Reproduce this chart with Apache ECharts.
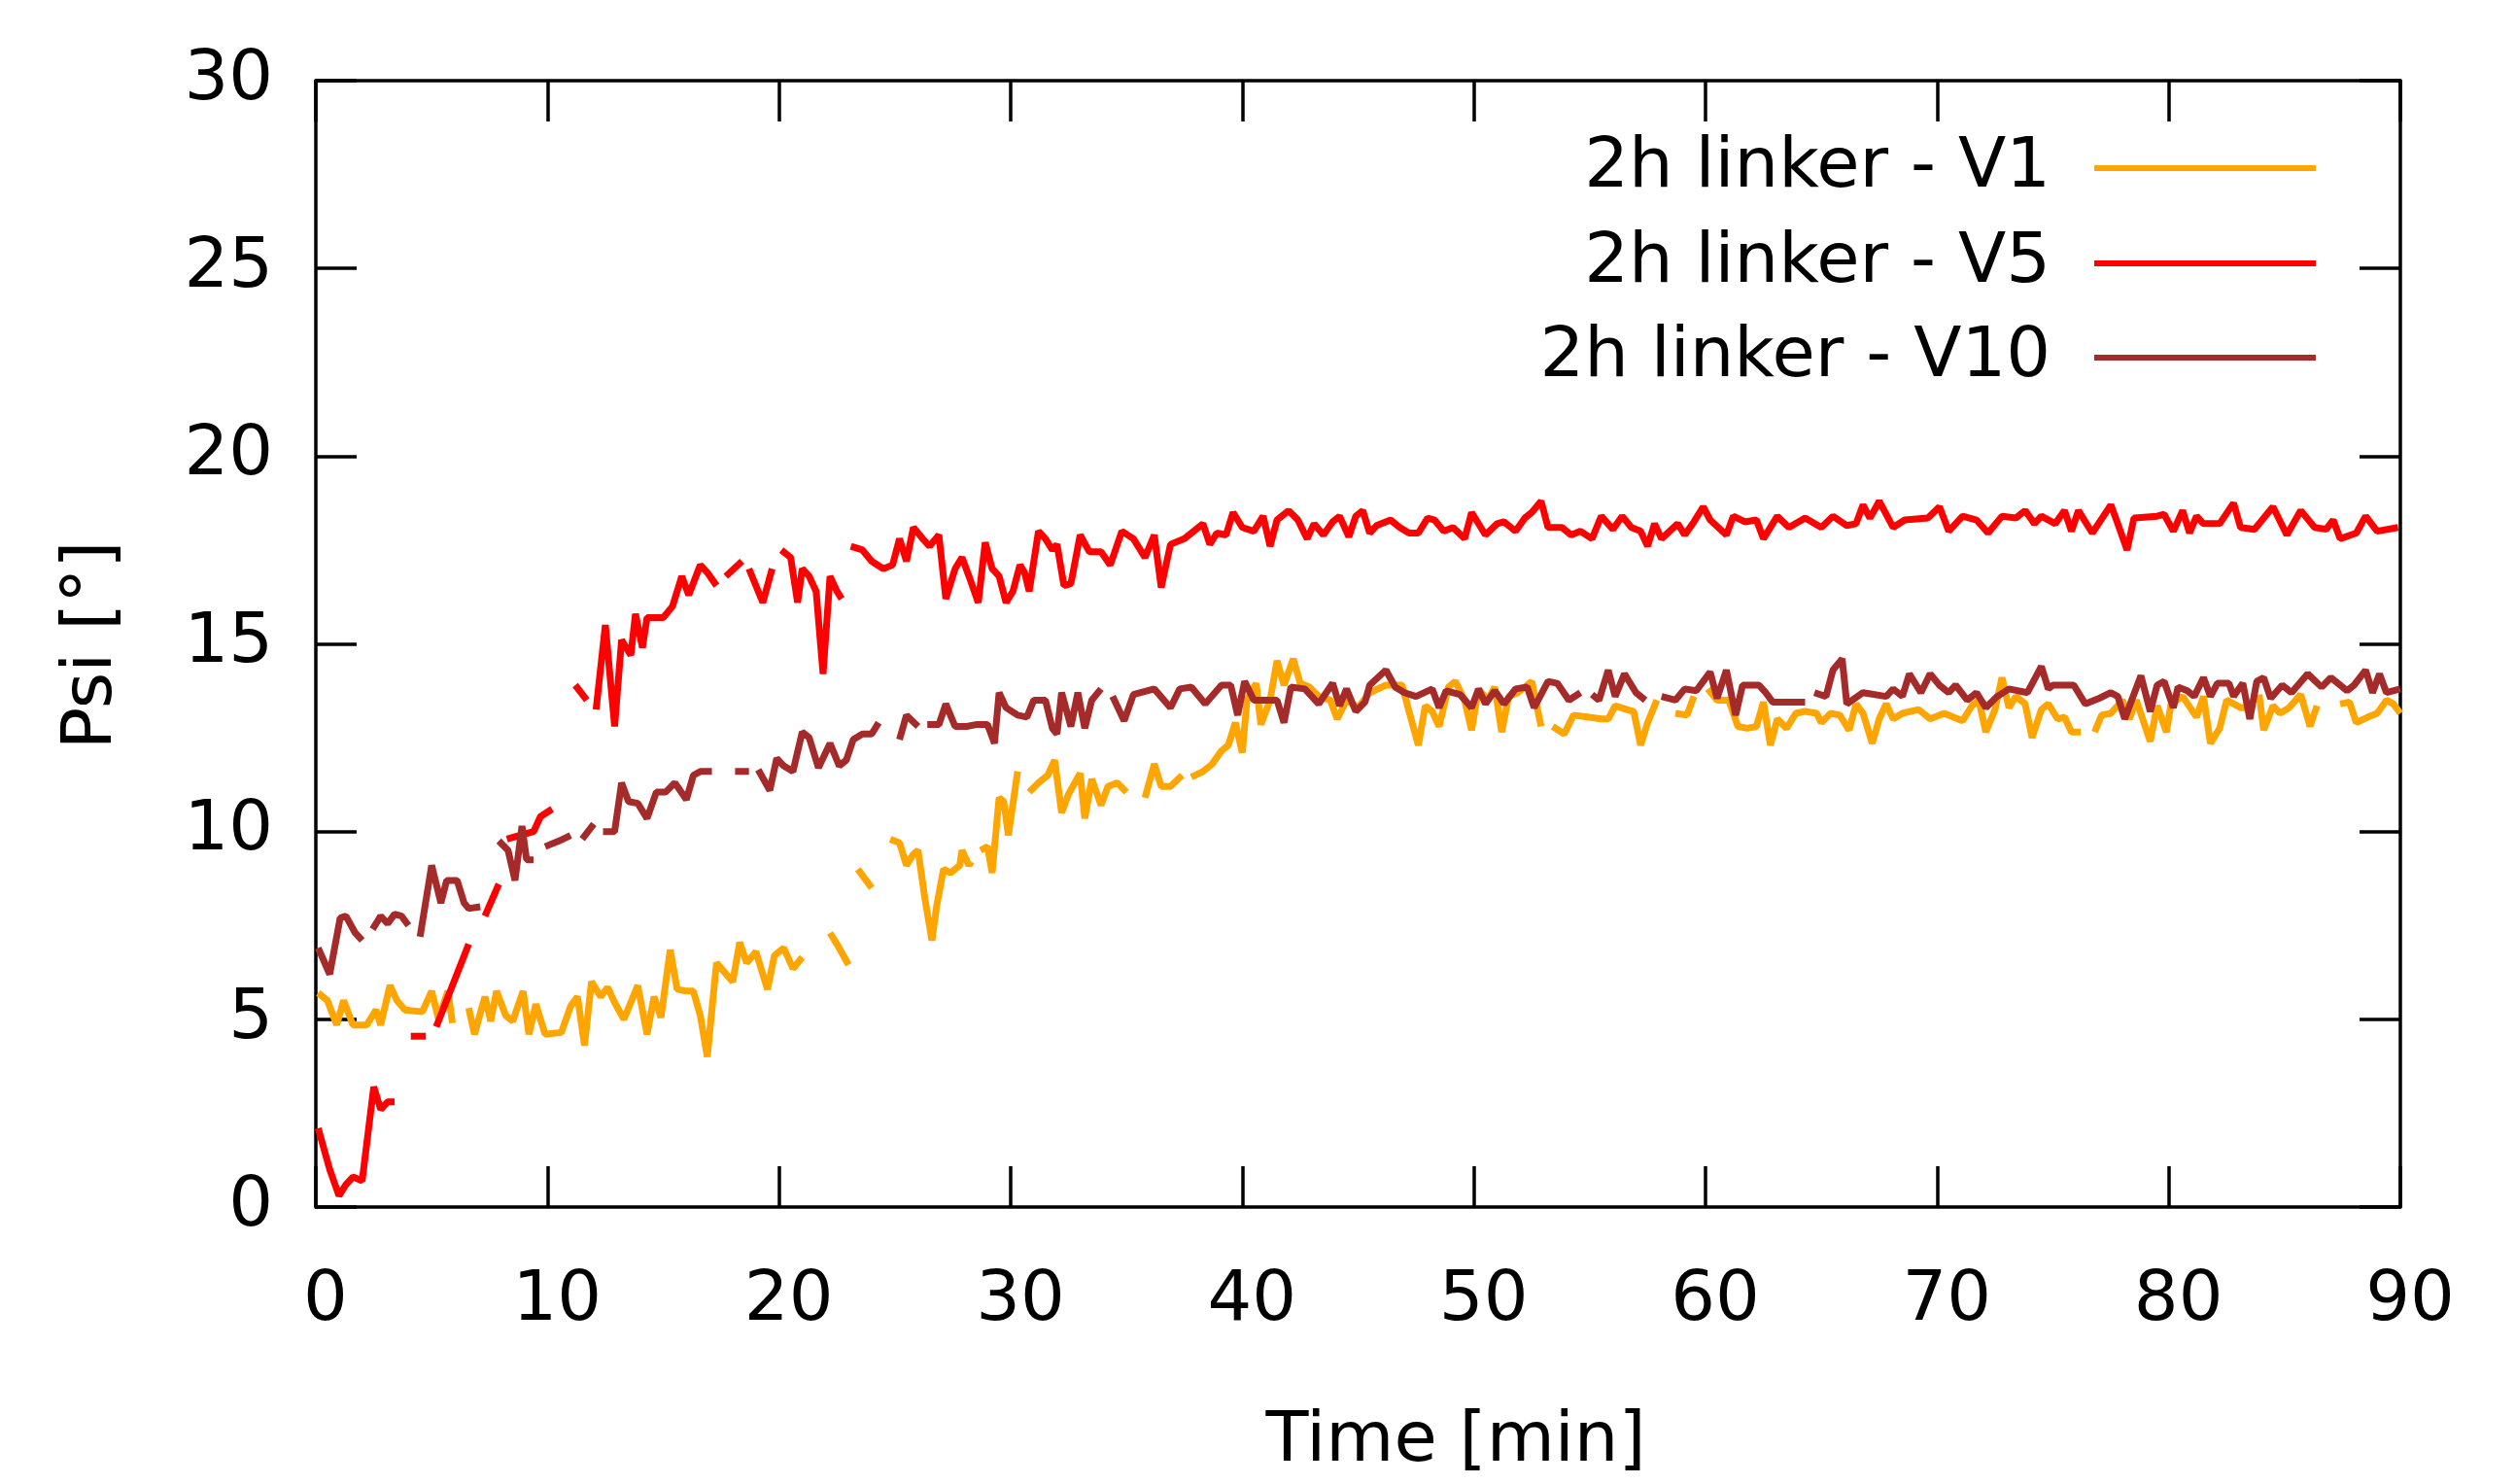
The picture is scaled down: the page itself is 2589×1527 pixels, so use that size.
<!DOCTYPE html>
<html>
<head>
<meta charset="utf-8">
<script src="https://cdn.jsdelivr.net/npm/echarts@6/dist/echarts.min.js"></script>
<style>
html,body{margin:0;padding:0;background:#fff;}
#chart{width:2589px;height:1527px;}
</style>
</head>
<body>
<div id="chart"></div>
<script>
// ---- DATA (time in min, Psi in degrees; null = gap in the curve) ----
const seriesNames = ['2h linker - V1', '2h linker - V5', '2h linker - V10'];
const xTicks = [0, 10, 20, 30, 40, 50, 60, 70, 80, 90];
const yTicks = [0, 5, 10, 15, 20, 25, 30];

const v1Time = [
  0.1, 0.5, 0.9, 1.2, 1.6, 2.2, 2.6, 2.8, 3.2, 3.5, 3.85, 4.6, 5.0, 5.3, 5.7, 5.9, 6.2,
  6.6, 6.85, 7.3, 7.55, 7.8, 8.2, 8.5, 8.95, 9.2, 9.5, 9.9, 10.6, 11.0, 11.3, 11.6, 11.9,
  12.3, 12.6, 12.9, 13.3, 13.9, 14.3, 14.6, 14.9, 15.3, 15.6, 16.0, 16.3, 16.6, 16.9, 17.3,
  18.0, 18.3, 18.6, 19.0, 19.5, 19.8, 20.2, 20.6, 21.0, 21.6, 22.2, 22.5, 23.0, 23.2, 23.4, 24.0, 24.4,
  24.8, 25.2, 25.5, 25.8, 26.0, 26.3, 26.6, 26.8, 27.1, 27.4, 27.8, 27.9, 28.2, 28.3, 28.5,
  28.7, 29.0, 29.2, 29.5, 29.7, 29.9, 30.3, 30.5, 30.8, 31.2, 31.6, 31.9, 32.2, 32.5, 33.0, 33.2, 33.5, 33.9,
  34.2, 34.6, 35.0, 35.4, 35.8, 36.2, 36.5, 36.9, 37.4, 37.6, 37.8, 38.3, 38.7, 39.1, 39.4, 39.7, 40.0,
  40.2, 40.6, 40.8, 41.2, 41.5, 41.8, 42.2, 42.5, 42.9, 43.3, 43.8, 44.1, 44.5, 45.0, 45.5, 46.2, 46.9, 47.2,
  47.6, 47.9, 48.2, 48.5, 48.9, 49.2, 49.6, 49.9, 50.2, 50.6, 50.9, 51.2, 51.5, 51.9, 52.5, 52.9, 53.1,
  53.4, 53.9, 54.3, 54.9, 55.5, 55.8, 56.1, 56.6, 56.9, 57.2, 57.5, 57.9, 58.3, 58.7, 59.2, 59.5, 59.8,
  60.1, 60.5, 61.0, 61.4, 61.8, 62.2, 62.5, 62.8, 63.1, 63.5, 63.9, 64.3, 64.8, 65.0, 65.4, 65.8, 66.2, 66.5,
  66.8, 67.2, 67.5, 67.8, 68.1, 68.5, 69.2, 69.7, 70.3, 71.1, 71.5, 71.8, 72.1, 72.5, 72.8, 73.1, 73.4, 73.8,
  74.1, 74.5, 74.8, 75.2, 75.5, 75.8, 76.2, 76.5, 76.8, 77.1, 77.5, 78.0, 78.3, 78.6, 79.2, 79.5, 79.9, 80.1,
  80.6, 81.2, 81.5, 81.8, 82.2, 82.5, 83.1, 83.3, 83.6, 83.9, 84.1, 84.5, 84.8, 85.2, 85.7, 86.1, 86.4, 86.9,
  87.4, 87.8, 88.1, 88.6, 89.0, 89.4, 89.7, 90.0
];
const v1Psi = [
  5.7, 5.5, 4.85, 5.5, 4.85, 4.85, 5.25, 4.85, 5.9, 5.5, 5.25, 5.2, 5.75, 5.0, 5.75, 4.9, null,
  5.3, 4.6, 5.6, 4.95, 5.75, 5.1, 4.95, 5.75, 4.6, 5.4, 4.6, 4.65, 5.35, 5.6, 4.3, 6.0,
  5.6, 5.85, 5.45, 5.0, 5.9, 4.6, 5.6, 5.05, 6.85, 5.8, 5.75, 5.75, 5.1, 4.0, 6.5,
  6.0, 7.05, 6.5, 6.8, 5.8, 6.7, 6.9, 6.35, 6.65, null, 7.3, 7.0, 6.45, null, 9.0, 8.5, null,
  9.8, 9.7, 9.1, 9.4, 9.5, 8.2, 7.1, 8.0, 9.0, 8.9, 9.1, 9.5, 9.1, 9.2, null,
  9.5, 9.6, 8.9, 10.9, 10.8, 9.9, 11.6, null, 11.05, 11.3, 11.5, 11.9, 10.5, 11.0, 11.55, 10.35, 11.4, 10.7,
  11.2, 11.3, 11.05, null, 10.9, 11.8, 11.2, 11.2, 11.5, null, 11.45, 11.6, 11.8, 12.15, 12.3, 12.9, 12.1,
  13.5, 13.95, 12.85, 13.5, 14.55, 13.9, 14.6, 13.95, 13.85, 13.6, 13.5, 13.0, 13.5, 13.3, 13.7, 13.9, 13.9, 13.2,
  12.3, 13.35, 13.2, 12.8, 13.85, 14.0, 13.5, 12.7, 13.8, 13.5, 13.85, 12.65, 13.6, 13.7, 14.0, 12.8, null,
  12.8, 12.6, 13.1, 13.05, 13.0, 13.0, 13.35, 13.25, 13.2, 12.3, 12.9, 13.5, null, 13.15, 13.1, 13.6, null,
  13.8, 13.5, 13.5, 12.8, 12.75, 12.8, 13.45, 12.3, 13.0, 12.75, 13.15, 13.2, 13.15, 12.9, 13.15, 13.1, 12.7, 13.4,
  13.15, 12.35, 13.0, 13.4, 13.0, 13.15, 13.25, 13.0, 13.15, 12.95, 13.35, 13.5, 12.65, 13.25, 14.1, 13.3, 13.6, 13.4,
  12.5, 13.25, 13.4, 13.0, 13.05, 12.65, 12.65, null, 12.65, 13.1, 13.15, 13.5, 13.0, 13.5, 12.4, 13.35, 12.65, 13.4,
  13.6, 13.05, 13.6, 12.35, 12.75, 13.5, 13.3, 13.3, null, 13.65, 12.7, 13.35, 13.15, 13.3, 13.65, 12.8, 13.35, null,
  13.4, 13.45, 12.9, 13.05, 13.15, 13.5, 13.4, 13.15
];

const v5Time = [
  0.1, 0.6, 1.0, 1.3, 1.6, 2.0, 2.5, 2.8, 3.1, 3.4, 3.7, 4.1, 4.75, 5.0, 5.2, 6.6, 6.9,
  7.3, 7.9, 8.1, 8.25, 8.8, 9.4, 9.7, 10.2, 10.7, 11.2, 11.7, 11.9,
  12.1, 12.5, 12.9, 13.2, 13.6, 13.8, 14.1, 14.3, 14.5, 15.0, 15.4, 15.8, 16.1, 16.6, 16.9, 17.3, 17.5,
  17.7, 18.4, 18.55, 18.7, 19.3, 19.7, 19.9, 20.1, 20.5, 20.8, 21.0, 21.3, 21.6, 21.9, 22.2, 22.5, 22.7, 22.9,
  23.1, 23.6, 24.0, 24.5, 24.9, 25.2, 25.5, 25.8, 26.2, 26.5, 26.9, 27.2, 27.6, 27.9, 28.2, 28.6, 28.9,
  29.2, 29.5, 29.8, 30.1, 30.4, 30.6, 30.8, 31.2, 31.5, 31.8, 32.0, 32.3, 32.6, 33.0, 33.4, 33.9, 34.3,
  34.8, 35.3, 35.8, 36.2, 36.5, 36.9, 37.5, 38.0, 38.3, 38.6, 38.9, 39.3, 39.6, 40.0, 40.5, 40.9, 41.2,
  41.5, 42.0, 42.4, 42.8, 43.1, 43.5, 43.9, 44.2, 44.6, 44.9, 45.2, 45.5, 45.8, 46.4, 46.8, 47.2, 47.6,
  48.0, 48.3, 48.7, 49.1, 49.6, 49.9, 50.5, 51.0, 51.3, 51.8, 52.2, 52.5, 52.9, 53.2, 53.8, 54.2, 54.6,
  55.1, 55.5, 56.0, 56.4, 56.8, 57.2, 57.5, 57.8, 58.1, 58.8, 59.1, 59.5, 59.9, 60.2, 60.9, 61.2, 61.7,
  62.2, 62.5, 63.1, 63.6, 64.3, 65.0, 65.5, 66.1, 66.5, 66.8, 67.1, 67.5, 68.1, 68.6, 69.6, 70.1, 70.5,
  71.1, 71.7, 72.2, 72.8, 73.4, 73.8, 74.2, 74.5, 75.1, 75.5, 75.8, 76.1, 76.7, 77.5, 77.8, 78.2, 78.5,
  79.5, 79.8, 80.2, 80.6, 80.9, 81.2, 81.5, 82.2, 82.8, 83.1, 83.7, 84.5, 85.1, 85.7, 86.3, 86.8, 87.1,
  87.4, 88.1, 88.5, 89.0, 89.9
];
const v5Psi = [
  2.1, 1.0, 0.3, 0.6, 0.8, 0.7, 3.2, 2.6, 2.8, 2.8, null, 4.55, 4.55, null, 4.8, 7.0, null,
  7.75, 8.6, null, 9.8, 9.9, 10.0, 10.4, 10.6, null, 13.9, 13.5, null,
  13.25, 15.5, 12.8, 15.1, 14.7, 15.8, 14.9, 15.7, 15.7, 15.7, 16.0, 16.8, 16.3, 17.1, 16.9, 16.55, null,
  16.8, 17.2, null, 17.0, 16.1, 17.0, null, 17.5, 17.3, 16.1, 17.0, 16.8, 16.4, 14.2, 16.8, 16.4, 16.2, null,
  17.6, 17.5, 17.2, 17.0, 17.1, 17.8, 17.2, 18.1, 17.8, 17.6, 17.9, 16.2, 17.0, 17.3, 16.8, 16.1, 17.7,
  17.0, 16.8, 16.1, 16.4, 17.1, 16.9, 16.4, 18.0, 17.8, 17.5, 17.65, 16.55, 16.6, 17.9, 17.45, 17.45, 17.1,
  18.0, 17.8, 17.3, 17.9, 16.5, 17.65, 17.8, 18.05, 18.2, 17.65, 17.95, 17.9, 18.5, 18.1, 18.0, 18.4, 17.6,
  18.3, 18.55, 18.3, 17.8, 18.2, 17.9, 18.25, 18.4, 17.85, 18.4, 18.55, 17.95, 18.15, 18.3, 18.1, 17.95, 17.95,
  18.35, 18.3, 18.0, 18.1, 17.8, 18.5, 17.9, 18.2, 18.25, 18.0, 18.35, 18.5, 18.8, 18.1, 18.1, 17.9, 18.0,
  17.8, 18.4, 18.05, 18.4, 18.1, 18.0, 17.6, 18.2, 17.8, 18.2, 17.9, 18.25, 18.65, 18.3, 17.9, 18.4, 18.25,
  18.3, 17.8, 18.4, 18.1, 18.35, 18.1, 18.4, 18.15, 18.2, 18.7, 18.35, 18.8, 18.1, 18.3, 18.35, 18.65, 18.0,
  18.4, 18.3, 17.95, 18.4, 18.35, 18.55, 18.2, 18.4, 18.2, 18.55, 18.0, 18.55, 17.95, 18.7, 18.2, 17.5, 18.35,
  18.4, 18.45, 18.0, 18.55, 17.95, 18.4, 18.2, 18.2, 18.75, 18.1, 18.05, 18.65, 17.9, 18.55, 18.1, 18.05, 18.3,
  17.8, 17.95, 18.4, 18.0, 18.1
];

const v10Time = [
  0.1, 0.6, 1.05, 1.3, 1.7, 2.0, 2.2, 2.45, 2.8, 3.1, 3.4, 3.7, 4.0, 4.25, 4.5,
  5.0, 5.4, 5.65, 6.1, 6.4, 6.6, 7.1, 7.5, 7.9, 8.3, 8.6, 8.9, 9.1, 9.4, 9.65,
  9.9, 10.5, 11.0, 11.25, 11.5, 12.0, 12.2, 12.4, 12.9, 13.2, 13.5, 13.9, 14.3, 14.7, 15.1, 15.5, 16.0,
  16.3, 16.6, 17.1, 17.6, 18.1, 18.7, 18.9, 19.1, 19.6, 19.9, 20.2, 20.6, 21.0, 21.3, 21.7, 22.2, 22.6,
  22.9, 23.2, 23.6, 24.0, 24.3, 24.7, 25.2, 25.5, 26.0, 26.2, 26.4, 26.9, 27.2, 27.6, 28.1, 28.5, 29.0,
  29.3, 29.5, 29.8, 30.3, 30.7, 31.0, 31.5, 31.8, 32.0, 32.2, 32.6, 32.9, 33.2, 33.5, 33.9, 34.15,
  34.4, 34.9, 35.3, 36.2, 36.9, 37.3, 37.8, 38.4, 39.1, 39.5, 39.8, 40.1, 40.5, 41.5, 41.8, 42.1, 42.7,
  43.3, 43.9, 44.2, 44.5, 44.9, 45.3, 45.5, 46.2, 46.6, 47.0, 47.5, 48.2, 48.5, 48.8, 49.4, 49.9, 50.2,
  50.5, 50.9, 51.3, 51.8, 52.3, 52.6, 53.2, 53.6, 54.1, 54.6, 54.85, 55.1, 55.4, 55.8, 56.1, 56.5, 57.0,
  57.4, 57.75, 58.1, 58.7, 59.1, 59.6, 59.9, 60.2, 60.5, 60.9, 61.3, 61.6, 62.3, 62.6, 62.9, 64.3, 64.5,
  64.7, 65.2, 65.5, 65.9, 66.1, 66.8, 67.8, 68.1, 68.5, 68.8, 69.3, 69.7, 70.1, 70.5, 70.8, 71.3, 71.7,
  72.1, 72.6, 73.1, 73.9, 74.5, 74.8, 75.0, 75.9, 76.4, 77.0, 77.5, 77.8, 78.1, 78.4, 78.8, 79.2, 79.5,
  79.8, 80.2, 80.4, 80.8, 81.1, 81.5, 81.8, 82.1, 82.6, 82.8, 83.2, 83.5, 83.8, 84.1, 84.4, 84.9, 85.3,
  86.0, 86.6, 87.0, 87.7, 88.0, 88.5, 88.8, 89.1, 89.4, 90.0
];
const v10Psi = [
  6.9, 6.2, 7.7, 7.75, 7.3, 7.1, null, 7.4, 7.75, 7.55, 7.8, 7.75, 7.5, null, 7.2,
  9.1, 8.1, 8.7, 8.7, 8.1, 7.95, 8.0, null, 9.75, 9.5, 8.7, 10.15, 9.25, 9.25, null,
  9.6, 9.75, 9.9, null, 9.8, 10.2, null, 10.0, 10.0, 11.3, 10.8, 10.75, 10.35, 11.05, 11.05, 11.3, 10.85,
  11.5, 11.6, 11.6, null, 11.6, 11.6, null, 11.65, 11.1, 11.95, 11.75, 11.6, 12.65, 12.5, 11.7, 12.35, 11.75,
  11.9, 12.45, 12.6, 12.6, 12.9, null, 12.45, 13.1, 12.8, null, 12.85, 12.85, 13.4, 12.8, 12.8, 12.85, 12.85,
  12.35, 13.7, 13.3, 13.1, 13.05, 13.5, 13.5, 12.75, 12.6, 13.7, 12.8, 13.7, 12.75, 13.5, 13.8, null,
  13.6, 12.95, 13.65, 13.8, 13.3, 13.8, 13.85, 13.4, 13.9, 13.9, 13.1, 14.0, 13.5, 13.5, 12.9, 13.85, 13.8,
  13.4, 13.95, 13.35, 13.8, 13.2, 13.45, 13.9, 14.3, 13.85, 13.7, 13.6, 13.8, 13.3, 13.75, 13.65, 13.3, 13.8,
  13.4, 13.75, 13.4, 13.8, 13.85, 13.3, 14.0, 13.95, 13.5, 13.7, null, 13.65, 13.5, 14.3, 13.6, 14.2, 13.7,
  13.5, null, 13.6, 13.5, 13.8, 13.75, 14.0, 14.25, 13.55, 14.3, 13.1, 13.9, 13.9, 13.7, 13.45, 13.45, null,
  13.7, 13.6, 14.3, 14.6, 13.4, 13.7, 13.6, 13.8, 13.6, 14.2, 13.7, 14.2, 13.9, 13.7, 13.9, 13.5, 13.7,
  13.3, 13.6, 13.8, 13.7, 14.4, 13.8, 13.9, 13.9, 13.4, 13.55, 13.7, 13.6, 13.0, 13.5, 14.15, 13.2, 13.9,
  14.0, 13.3, 13.85, 13.75, 13.6, 14.1, 13.6, 13.95, 13.95, 13.6, 13.95, 13.0, 14.0, 14.1, 13.55, 13.9, 13.7,
  14.2, 13.85, 14.1, 13.75, 13.9, 14.3, 13.7, 14.2, 13.7, 13.8
];

const seriesColors = ['#ffa500', '#ff0000', '#a52a2a'];

// ---- CHART ----
function pairs(t, v) {
  return t.map((x, i) => [x, v[i] === null ? '-' : v[i]]);
}
const FONT = 'DejaVu Sans';
const FS = 72;
const chart = echarts.init(document.getElementById('chart'), null, { renderer: 'canvas' });

const axisLineStyle = { color: '#000', width: 3.5 };
function xAx(pos, showLabel) {
  return {
    type: 'value', position: pos, min: xTicks[0], max: xTicks[xTicks.length - 1], interval: 10,
    axisLine: { show: true, onZero: false, lineStyle: axisLineStyle },
    axisTick: { show: true, inside: true, length: 42, lineStyle: axisLineStyle },
    axisLabel: { show: showLabel, fontFamily: FONT, fontSize: FS, color: '#000', margin: 61, padding: [0, 0, 0, 20] },
    splitLine: { show: false }
  };
}
function yAx(pos, showLabel) {
  return {
    type: 'value', position: pos, min: yTicks[0], max: yTicks[yTicks.length - 1], interval: 5,
    axisLine: { show: true, onZero: false, lineStyle: axisLineStyle },
    axisTick: { show: true, inside: true, length: 42, lineStyle: axisLineStyle },
    axisLabel: { show: showLabel, fontFamily: FONT, fontSize: FS, color: '#000', margin: 44 },
    splitLine: { show: false }
  };
}

const legendRows = [168, 266, 363];
const legends = seriesNames.map((n, i) => ({
  data: [n],
  orient: 'horizontal',
  align: 'right',
  right: 2589 - 2383,
  top: legendRows[i] - 31,
  padding: 0,
  itemWidth: 228,
  itemHeight: 6,
  icon: 'rect',
  selectedMode: false,
  textStyle: { fontFamily: FONT, fontSize: FS, color: '#000', padding: [0, 40, 0, 0] }
}));

const lines = [[v1Time, v1Psi], [v5Time, v5Psi], [v10Time, v10Psi]].map((d, i) => ({
  name: seriesNames[i],
  type: 'line',
  xAxisIndex: 0,
  yAxisIndex: 0,
  data: pairs(d[0], d[1]),
  showSymbol: false,
  symbol: 'none',
  connectNulls: false,
  lineStyle: { color: seriesColors[i], width: 7 },
  itemStyle: { color: seriesColors[i] },
  clip: true,
  z: 2 + i
}));

chart.setOption({
  animation: false,
  backgroundColor: '#fff',
  grid: { left: 325, right: 2589 - 2470, top: 83, bottom: 1527 - 1242, containLabel: false },
  xAxis: [xAx('bottom', true), xAx('top', false)],
  yAxis: [yAx('left', true), yAx('right', false)],
  legend: legends,
  series: lines,
  graphic: [
    { type: 'text', x: 1498, y: 1484, style: { text: 'Time [min]', font: FS + 'px "' + FONT + '"', fill: '#000', textAlign: 'center', textVerticalAlign: 'middle' } },
    { type: 'text', x: 95, y: 664, rotation: Math.PI / 2, style: { text: 'Psi [°]', font: FS + 'px "' + FONT + '"', fill: '#000', textAlign: 'center', textVerticalAlign: 'middle' } }
  ]
});
</script>
</body>
</html>
